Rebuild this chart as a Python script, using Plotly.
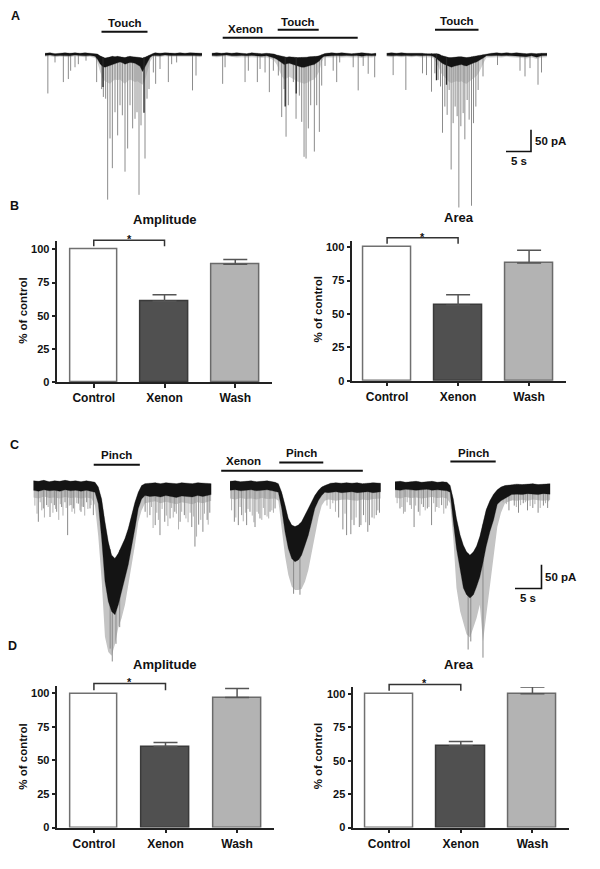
import numpy as np
import plotly.graph_objects as go

W, H = 600, 869
FONT = "Liberation Sans, Arial, Helvetica, sans-serif"

# ================= DATA =================
# Panel A traces: time (s), current (pA, baseline = 0)
A1_t   = [0,1,2,3,4, 5,6,7,8,9, 10,10.5,11,11.5,12, 12.5,13,13.5,14,14.5, 15,15.5,16,16.5,17, 17.5,18,18.5,19,19.5, 20,20.5,21,21.5,22, 23,24,25,26,27, 28,29,30,31,31.4]
A1_top = [2,3,1,2,3, 2,3,2,3,2, 1,0,-4,-7,-9, -8,-7,-5,-6,-5, -6,-7,-8,-6,-5, -6,-6,-7,-8,-9, -7,-4,-1,1,3, 2,3,2,2,3, 2,3,2,1,2]
A1_bot = [-3,-2,-4,-3,-3, -4,-2,-3,-4,-3, -5,-12,-22,-28,-30, -27,-25,-24,-22,-20, -18,-20,-23,-21,-19, -20,-21,-24,-28,-40, -30,-18,-8,-4,-3, -4,-2,-3,-4,-3, -4,-3,-3,-4,-3]
A1_lo  = [-6,-5,-7,-6,-6, -7,-5,-6,-7,-6, -9,-20,-40,-55,-62, -65,-68,-62,-58,-60, -58,-64,-68,-62,-58, -60,-64,-62,-66,-70, -60,-40,-18,-8,-6, -7,-5,-6,-7,-6, -7,-6,-6,-7,-6]
A1_spk_t = [0.57,2.0,3.67,4.67,5.13, 6.0,6.67,8.2,10.33,11.33, 11.67,12.13,12.53,13.0,13.47, 14.0,14.53,15.0,15.47,16.0, 16.53,17.0,17.53,18.0,18.4, 18.8,19.2,20.0,20.4,20.8, 21.67,22.13,23.0,24.67,25.33, 26.33,29.5,30.2]
A1_spk_i = [-90,-19,-64,-57,-38, -30,-23,-15,-64,-80, -98,-102,-333,-193,-261, -133,-186,-117,-140,-269, -216,-117,-170,-148,-133, -322,-163,-239,-102,-80, -42,-68,-34,-64,-23, -19,-83,-49]
A1_dark_t = [11.6, 19.8]
A1_dark_i = [-75, -134]
A1_touch = [11.3, 20.5]

A2_t   = [0,1,2,3,4, 5,6,7,8,9, 10,11,12,12.5,13, 13.5,14,14.5,15,15.5, 16,16.5,17,17.5,18, 18.5,19,19.5,20,20.5, 21,21.5,22,22.5,23, 24,25,26,27,28, 29,30,31,32,32.9]
A2_top = [2,3,2,3,2, 3,2,1,3,2, 1,2,1,0,-2, -3,-5,-6,-7,-6, -6,-7,-8,-8,-7, -8,-7,-6,-6,-5, -5,-4,-1,1,2, 3,2,3,2,1, 2,3,2,1,2]
A2_bot = [-3,-4,-3,-2,-4, -4,-3,-4,-3,-4, -5,-4,-7,-9,-12, -15,-20,-24,-22,-21, -23,-25,-27,-28,-30, -30,-28,-27,-25,-24, -20,-16,-9,-5,-4, -4,-3,-4,-3,-4, -3,-5,-3,-4,-3]
A2_lo  = [-6,-7,-6,-5,-7, -8,-7,-8,-7,-8, -9,-8,-12,-16,-24, -38,-50,-58,-55,-52, -55,-58,-62,-64,-66, -68,-66,-64,-60,-58, -50,-40,-18,-8,-7, -8,-7,-8,-7,-8, -7,-9,-7,-8,-6]
A2_spk_t = [2.19,2.67,6.67,7.33,9.13, 9.67,10.67,11.53,12.33,13.33, 14.0,14.47,14.87,15.33,16.33, 16.87,17.53,18.0,18.47,18.87, 19.33,19.8,20.53,21.0,21.53, 22.0,22.67,24.3,25.0,25.6, 28.3,29.3,30.3,31.3,32.6]
A2_spk_i = [-68,-30,-64,-38,-64, -34,-42,-87,-38,-49, -144,-80,-189,-117,-64, -148,-95,-155,-235,-239, -170,-117,-223,-117,-178, -72,-27,-38,-64,-19, -30,-83,-27,-45,-53]
A2_dark_t = [14.7, 16.9]
A2_dark_i = [-120, -90]
A2_xenon = [2.2, 29.2]
A2_touch = [13.2, 21.4]

A3_t   = [0,1,2,3,4, 5,6,7,8,9, 9.5,10,10.5,11,11.5, 12,12.5,13,13.5,14, 14.5,15,15.5,16,16.5, 17,17.5,18,18.5,19, 19.5,20,21,22,23, 24,25,26,27,28, 29,30,31,32,32.1]
A3_top = [2,3,2,3,2, 2,3,2,1,2, 1,1,0,-3,-5, -7,-8,-8,-7,-6, -6,-6,-7,-8,-7, -6,-5,-4,-3,-2, 0,1,2,3,2, 3,2,3,2,1, 2,1,2,3,2]
A3_bot = [-3,-4,-3,-4,-3, -4,-3,-4,-3,-4, -6,-10,-14,-20,-23, -26,-28,-30,-28,-26, -25,-24,-26,-27,-24, -22,-20,-18,-15,-12, -8,-4,-4,-3,-4, -3,-4,-4,-5,-6, -4,-7,-4,-3,-3]
A3_lo  = [-6,-7,-6,-7,-6, -7,-6,-8,-7,-8, -10,-20,-32,-45,-52, -58,-64,-66,-64,-62, -64,-62,-66,-68,-62, -58,-54,-50,-42,-32, -18,-8,-8,-7,-8, -6,-7,-8,-9,-10, -8,-11,-8,-7,-6]
A3_spk_t = [1.33,3.87,7.2,8.0,9.0, 9.67,10.33,10.8,11.2,11.67, 12.13,12.53,12.93,13.33,13.73, 14.13,14.47,14.87,15.33,15.67, 16.13,16.53,17.0,17.4,17.87, 18.33,19.3,22.2,26.7,27.7, 28.7,30.3,31.0]
A3_spk_i = [-48,-82,-44,-48,-86, -44,-59,-74,-180,-120, -139,-82,-264,-158,-120, -142,-351,-165,-135,-195, -105,-150,-347,-158,-120, -82,-51,-25,-38,-51, -32,-70,-42]
A3_dark_t = [10.0, 12.0]
A3_dark_i = [-60, -70]
A3_touch = [9.7, 18.4]

# Panel C traces (pinch)
C1_t   = [0,1,2,3,4, 5,6,7,8,9, 10,11,11.64,12.26,12.89, 13.52,14.15,14.78,15.41,16.04, 16.67,17.3,17.92,18.55,19.18, 19.81,20.44,21.07,22,23, 24,25,26,27,28, 29,30,31,32,33.6]
C1_top = [7,6,8,5,7, 6,8,6,7,5, 7,6,4,-6,-31, -79,-121,-149,-156,-145, -128,-114,-93,-65,-38, -17,-3,1,2,3, 1,3,2,1,3, 2,1,3,2,1]
C1_bot = [-13,-15,-12,-14,-13, -15,-12,-14,-13,-15, -13,-15,-17,-41,-114, -204,-246,-267,-274,-253, -225,-197,-169,-135,-93, -51,-31,-24,-26,-25, -27,-24,-26,-28,-25, -26,-27,-24,-26,-22]
C1_lo  = [-28,-30,-26,-29,-28, -30,-27,-29,-28,-30, -28,-30,-45,-110,-200, -320,-352,-360,-336,-301, -281,-253,-211,-169,-128, -79,-55,-40,-38,-36, -40,-37,-39,-42,-38, -40,-42,-38,-40,-35]
C1_spk_t = [0.95,1.89,2.52,3.15,3.97, 4.41,5.35,5.98,6.48,7.11, 7.55,8.5,9.0,9.44,10.07, 10.7,11.33,21.1,22.0,23.0, 23.9,24.8,25.8,26.7,27.7, 28.5,29.9,30.5,31.2,32.0, 32.8,33.3,14.5,14.9,15.6, 16.3]
C1_spk_i = [-79,-51,-44,-69,-44, -58,-48,-38,-107,-44, -51,-41,-58,-48,-38, -51,-65,-58,-65,-86, -107,-79,-72,-58,-79, -65,-90,-131,-85,-100, -75,-60,-345,-372,-335, -300]
C1_comb_t = [0.3,0.7,1.3,1.6,2.1, 2.8,3.4,3.7,4.2,4.8, 5.1,5.6,6.2,6.8,7.3, 7.8,8.2,8.8,9.2,9.7, 10.3,10.9, 21.5,22.3,22.6,23.3,23.6, 24.3,25.1,25.4,26.1,26.4, 27.0,27.4,28.0,28.8,29.2, 29.6,30.2,30.8,31.6,32.3, 33.0]
C1_comb_i = [-45,-62,-38,-55,-70, -48,-40,-60,-52,-75, -42,-66,-50,-45,-58, -62,-40,-55,-47,-66, -52,-44, -70,-48,-92,-60,-75, -52,-66,-88,-50,-70, -62,-95,-58,-72,-80, -60,-68,-110,-75,-62, -85]
C1_pinch = [11.4, 20.1]

C2_t   = [0,1,2,3,4, 5,6,7,8,8.5, 9.12,9.75,10.38,11.0,11.64, 12.26,12.9,13.5,14.15,14.78, 15.4,16.0,16.7,17.3,17.9, 18.5,19,20,21,22, 23,24,25,26,27, 28.45]
C2_top = [6,7,5,6,7, 5,6,7,5,4, 1,-17,-44,-72,-86, -89,-86,-79,-65,-51, -38,-24,-13,-6,-3, 0,2,3,2,3, 2,3,1,2,3, 2]
C2_bot = [-13,-12,-14,-13,-12, -14,-13,-12,-14,-15, -17,-51,-100,-135,-156, -163,-159,-149,-128,-107, -79,-51,-34,-24,-17, -18,-17,-16,-18,-17, -16,-18,-17,-16,-18, -16]
C2_lo  = [-30,-32,-29,-31,-30, -32,-29,-31,-30,-30, -35,-90,-150,-190,-215, -222,-222,-220,-205,-180, -150,-110,-70,-45,-35, -32,-33,-35,-33,-32, -34,-35,-32,-34,-31, -30]
C2_spk_t = [0.82,1.57,2.2,3.14,3.77, 4.72,5.66,6.6,7.55,8.5, 12.0,13.2,20.5,21.3,22.0, 22.8,23.4,24.4,24.7,25.2, 26.0,26.3,26.8,27.6,28.2]
C2_spk_i = [-79,-86,-65,-86,-58, -90,-72,-65,-58,-51, -230,-232,-70,-95,-107, -105,-86,-90,-86,-65, -100,-86,-70,-65,-60]
C2_comb_t = [0.3,1.1,1.9,2.5,2.9, 3.4,4.2,4.5,5.1,5.4, 6.0,6.3,7.0,7.3,7.9, 8.2, 18.3,18.9,19.4,19.9,21.7, 23.0,23.8,25.6,27.2,27.9]
C2_comb_i = [-55,-70,-48,-78,-60, -52,-66,-80,-58,-62, -75,-50,-68,-72,-55, -60, -45,-52,-40,-58,-62, -75,-70,-80,-72,-55]
C2_xenon = [-1.66, 25.06]
C2_pinch = [9.3, 17.6]

C3_t   = [0,1,2,3,4, 5,6,7,8,9, 9.8,10.4,11.0,11.6,12.3, 12.9,13.5,14.15,14.8,15.4, 16.0,16.6,17.2,17.9,18.6, 19.3,20.0,20.75,22,23, 24,25,26,27,28, 29.3]
C3_top = [5,6,4,5,6, 4,5,6,4,5, 4,-3,-31,-72,-107, -128,-142,-149,-142,-130, -110,-85,-54,-35,-21, -12,-6,-3,-1,0, -1,0,1,-1,0, 1]
C3_bot = [-12,-13,-11,-12,-13, -12,-11,-13,-12,-13, -14,-17,-79,-135,-183, -218,-232,-239,-232,-215, -195,-165,-131,-100,-75, -42,-35,-30,-22,-21, -22,-20,-21,-22,-20, -21]
C3_lo  = [-28,-30,-27,-29,-28, -30,-28,-27,-29,-28, -30,-40,-114,-218,-267, -288,-315,-322,-301,-281, -253,-330,-280,-220,-150, -90,-60,-40,-34,-35, -33,-35,-32,-34,-35, -33]
C3_spk_t = [0.94,1.89,2.83,3.6,4.4, 5.35,6.1,6.9,7.9,8.8, 9.6,13.8,14.3,16.6,21.5, 22.5,23.3,24.2,25.0,26.0, 27.0,28.0,28.8]
C3_spk_i = [-51,-58,-44,-90,-58, -48,-51,-86,-48,-44, -51,-347,-330,-364,-55, -45,-60,-40,-55,-50, -60,-45,-50]
C3_comb_t = [0.4,1.3,1.6,2.3,3.1, 3.9,4.7,5.0,5.7,6.4, 7.3,7.6,8.3,9.2,9.9, 20.4,21.0,21.9,22.9,23.7, 24.6,25.5,26.4,27.4,28.4, 29.0]
C3_comb_i = [-40,-48,-62,-38,-52, -45,-66,-42,-55,-48, -40,-58,-50,-62,-45, -38,-42,-35,-48,-44, -38,-46,-42,-50,-40, -36]
C3_pinch = [10.45, 19.0]

# Bar charts (% of control, mean and SEM)
categories = ["Control", "Xenon", "Wash"]
B_amp_mean  = [100, 61.0, 88.8]
B_amp_sem   = [0, 4.9, 3.5]
B_area_mean = [100, 56.6, 88.3]
B_area_sem  = [0, 7.9, 9.5]
D_amp_mean  = [100, 60.4, 97.0]
D_amp_sem   = [0, 3.0, 6.7]
D_area_mean = [100, 61.3, 100.2]
D_area_sem  = [0, 3.2, 5.2]
y_ticks = [0, 25, 50, 75, 100]

# ================= HELPERS =================
def py(p):
    return 1 - p / H

def xdom(p0, p1):
    return [p0 / W, p1 / W]

def ydom(top, bot):
    return [1 - bot / H, 1 - top / H]

fig = go.Figure()
layout_axes = {}
shapes = []
annos = []

def txt(x, y, s, size=11.5, xref="paper", yref="paper", xanchor="center", yanchor="middle", angle=0):
    annos.append(dict(x=x, y=y, xref=xref, yref=yref, text=s, showarrow=False,
                      xanchor=xanchor, yanchor=yanchor, textangle=angle,
                      font=dict(family=FONT, size=size, color="#111", weight="bold")))

def spikes(st, si, core_t, core_top, xa, ya, color, width):
    # each event drawn as a vertical stroke hanging from the trace's upper edge
    start = np.interp(st, core_t, core_top)
    xs, ys = [], []
    for a, s0, b in zip(st, start, si):
        xs += [a, a, None]
        ys += [float(s0), b, None]
    fig.add_trace(go.Scatter(x=xs, y=ys, mode="lines", line=dict(color=color, width=width),
                             xaxis=xa, yaxis=ya, hoverinfo="skip"))

def draw_trace(t, top, bot, lo, spk_t, spk_i, xa, ya, fringe_col, spk_col,
               dark_t=None, dark_i=None, comb_t=None, comb_i=None):
    fig.add_trace(go.Scatter(x=t + t[::-1], y=top + lo[::-1], fill="toself", fillcolor=fringe_col,
                             mode="lines", line=dict(width=0), xaxis=xa, yaxis=ya, hoverinfo="skip"))
    if comb_t:
        spikes(comb_t, comb_i, t, top, xa, ya, "#a9a9a9", 0.9)
    spikes(spk_t, spk_i, t, top, xa, ya, spk_col, 1)
    fig.add_trace(go.Scatter(x=t + t[::-1], y=top + bot[::-1], fill="toself", fillcolor="#141414",
                             mode="lines", line=dict(width=0.3, color="#141414"), xaxis=xa, yaxis=ya,
                             hoverinfo="skip"))
    if dark_t:
        spikes(dark_t, dark_i, t, top, xa, ya, "#262626", 1.3)

# ---------- Panel A ----------
A_PXS, A_PXPA, A_BASE, A_TOPPX, A_BOTPX = 5.0, 0.44, 54.5, 8, 215
layout_axes["yaxis"] = dict(domain=ydom(A_TOPPX, A_BOTPX), visible=False,
                            range=[-(A_BOTPX - A_BASE) / A_PXPA, (A_BASE - A_TOPPX) / A_PXPA], anchor="x")
A_specs = [(A1_t, 45.0, "xaxis"), (A2_t, 211.7, "xaxis2"), (A3_t, 386.5, "xaxis3")]
for t, start, key in A_specs:
    layout_axes[key] = dict(domain=xdom(start, start + t[-1] * A_PXS), range=[0, t[-1]], visible=False, anchor="y")

AF, AS = "#d2d2d2", "#8c8c8c"
draw_trace(A1_t, A1_top, A1_bot, A1_lo, A1_spk_t, A1_spk_i, "x", "y", AF, AS, A1_dark_t, A1_dark_i)
draw_trace(A2_t, A2_top, A2_bot, A2_lo, A2_spk_t, A2_spk_i, "x2", "y", AF, AS, A2_dark_t, A2_dark_i)
draw_trace(A3_t, A3_top, A3_bot, A3_lo, A3_spk_t, A3_spk_i, "x3", "y", AF, AS, A3_dark_t, A3_dark_i)

def stim(xref, iv, ypx, label, lab_ypx, lab_x=None):
    shapes.append(dict(type="line", xref=xref, yref="paper", x0=iv[0], x1=iv[1], y0=py(ypx), y1=py(ypx),
                       line=dict(color="#111", width=2)))
    cx = (iv[0] + iv[1]) / 2 if lab_x is None else lab_x
    txt(cx, py(lab_ypx), label, size=11.5, xref=xref)

stim("x", A1_touch, 32, "Touch", 23.3)
stim("x2", A2_xenon, 38, "Xenon", 29, lab_x=6.7)
stim("x2", A2_touch, 30, "Touch", 22)
stim("x3", A3_touch, 30, "Touch", 21.5)

def scale_bar(sb, xa, ya):
    fig.add_trace(go.Scatter(x=[sb["t_end"] - sb["dt"], sb["t_end"], sb["t_end"]],
                             y=[sb["i_base"], sb["i_base"], sb["i_base"] + sb["di"]],
                             mode="lines", line=dict(color="#111", width=1.6), xaxis=xa, yaxis=ya,
                             hoverinfo="skip"))
    annos.append(dict(x=sb["t_end"], y=sb["i_base"] + sb["di"] / 2, xref=xa, yref=ya, text="50 pA",
                      showarrow=False, xanchor="left", yanchor="middle", xshift=2,
                      font=dict(family=FONT, size=11.5, color="#111", weight="bold")))
    annos.append(dict(x=sb["t_end"] - sb["dt"] / 2, y=sb["i_base"], xref=xa, yref=ya, text="5 s",
                      showarrow=False, xanchor="center", yanchor="top", yshift=-1,
                      font=dict(family=FONT, size=11.5, color="#111", weight="bold")))

scale_bar(dict(t_end=28.9, i_base=-223, dt=5, di=50), "x3", "y")

# ---------- Panel C ----------
C_PXS, C_PXPA, C_BASE, C_TOPPX, C_BOTPX = 5.3, 0.48, 487.5, 470, 668
layout_axes["yaxis2"] = dict(domain=ydom(C_TOPPX, C_BOTPX), visible=False,
                             range=[-(C_BOTPX - C_BASE) / C_PXPA, (C_BASE - C_TOPPX) / C_PXPA], anchor="x4")
C_specs = [(C1_t, 0.0, 33.3, "xaxis4"), (C2_t, -2.0, 230.0, "xaxis5"), (C3_t, 0.0, 395.0, "xaxis6")]
for t, t0, start, key in C_specs:
    layout_axes[key] = dict(domain=xdom(start + t0 * C_PXS, start + t[-1] * C_PXS), range=[t0, t[-1]],
                            visible=False, anchor="y2")

CF, CS = "#c4c4c4", "#8a8a8a"
draw_trace(C1_t, C1_top, C1_bot, C1_lo, C1_spk_t, C1_spk_i, "x4", "y2", CF, CS, comb_t=C1_comb_t, comb_i=C1_comb_i)
draw_trace(C2_t, C2_top, C2_bot, C2_lo, C2_spk_t, C2_spk_i, "x5", "y2", CF, CS, comb_t=C2_comb_t, comb_i=C2_comb_i)
draw_trace(C3_t, C3_top, C3_bot, C3_lo, C3_spk_t, C3_spk_i, "x6", "y2", CF, CS, comb_t=C3_comb_t, comb_i=C3_comb_i)

stim("x4", C1_pinch, 468, "Pinch", 458.3)
stim("x5", C2_xenon, 474, "Xenon", 464, lab_x=2.5)
stim("x5", C2_pinch, 465.7, "Pinch", 456)
stim("x6", C3_pinch, 464.7, "Pinch", 455.7)

scale_bar(dict(t_end=27.64, i_base=-219, dt=5, di=50), "x6", "y2")

# ---------- Bar charts ----------
BAR_FILL = ["#ffffff", "#505050", "#b3b3b3"]
BAR_LINE = ["#707070", "#3a3a3a", "#6a6a6a"]

def bar_panel(n, means, sems, xpx, xr, ypx, yr, title, title_px, ytitle_px, br_top, br_low, star_px):
    xa, ya = "x%d" % n, "y%d" % (n - 4)
    layout_axes["xaxis%d" % n] = dict(domain=xdom(*xpx), range=xr, anchor=ya, showline=True,
                                      linecolor="#222", linewidth=1.5, ticks="outside", ticklen=4,
                                      tickwidth=1.5, tickcolor="#222", tickvals=[0, 1, 2], ticktext=categories,
                                      tickfont=dict(family=FONT, size=12, color="#111", weight="bold"),
                                      showgrid=False, zeroline=False, fixedrange=True)
    layout_axes["yaxis%d" % (n - 4)] = dict(domain=ydom(*ypx), range=yr, anchor=xa, showline=True,
                                            linecolor="#222", linewidth=1.5, ticks="outside", ticklen=4,
                                            tickwidth=1.5, tickcolor="#222", tickvals=y_ticks,
                                            tickfont=dict(family=FONT, size=11, color="#111", weight="bold"),
                                            showgrid=False, zeroline=False, fixedrange=True)
    fig.add_trace(go.Bar(x=[0], y=means[:1], width=0.67, xaxis=xa, yaxis=ya,
                         marker=dict(color=BAR_FILL[0], line=dict(color=BAR_LINE[0], width=1.5)),
                         hoverinfo="skip"))
    fig.add_trace(go.Bar(x=[1, 2], y=means[1:], width=0.67, xaxis=xa, yaxis=ya,
                         marker=dict(color=BAR_FILL[1:], line=dict(color=BAR_LINE[1:], width=1.5)),
                         error_y=dict(type="data", array=sems[1:], symmetric=False, arrayminus=[0, 0],
                                      color="#555", thickness=1.5, width=12), hoverinfo="skip"))
    txt(title_px[0] / W, py(title_px[1]), title, size=13)
    txt(ytitle_px[0] / W, py(ytitle_px[1]), "% of control", size=11.5, angle=-90)
    shapes.append(dict(type="path", xref=xa, yref="paper",
                       path="M 0,%f L 0,%f L 1,%f L 1,%f" % (py(br_low), py(br_top), py(br_top), py(br_low)),
                       line=dict(color="#333", width=1.5)))
    txt(0.5, py(star_px), "*", size=11, xref=xa)

bar_panel(7, B_amp_mean, B_amp_sem, (57.4, 272.0), [-0.514, 2.519], (243, 385), [0, 106],
          "Amplitude", (164.6, 221), (23, 313), 242, 248, 241)
bar_panel(8, B_area_mean, B_area_sem, (352.3, 566.0), [-0.49, 2.52], (242.7, 383.3), [0, 104.7],
          "Area", (459.2, 219), (317.6, 312), 239.3, 245.5, 238.5)
bar_panel(9, D_amp_mean, D_amp_sem, (57.4, 273.6), [-0.51, 2.51], (690.7, 833.3), [0, 105.6],
          "Amplitude", (164.6, 669), (23, 762), 688.3, 695, 687)
bar_panel(10, D_area_mean, D_area_sem, (353.3, 569.0), [-0.5, 2.51], (691.7, 833.3), [0, 105.4],
          "Area", (459.2, 669), (317.6, 762), 689.3, 695.5, 687.5)

for letter, lx, ly in [("A", 8.5, 16), ("B", 7.7, 207), ("C", 8.4, 448), ("D", 6.0, 650)]:
    txt(lx / W, py(ly), letter, size=12.5, xanchor="left")

fig.update_layout(width=W, height=H, margin=dict(l=0, r=0, t=0, b=0),
                  paper_bgcolor="white", plot_bgcolor="white", showlegend=False,
                  font=dict(family=FONT, color="#111"), shapes=shapes, annotations=annos,
                  barmode="overlay", bargap=0, **layout_axes)

fig.write_html("out.html", config={"displayModeBar": False},
               post_script="document.body.style.margin='0';document.body.style.padding='0';"
                           "document.body.style.overflow='hidden';")
